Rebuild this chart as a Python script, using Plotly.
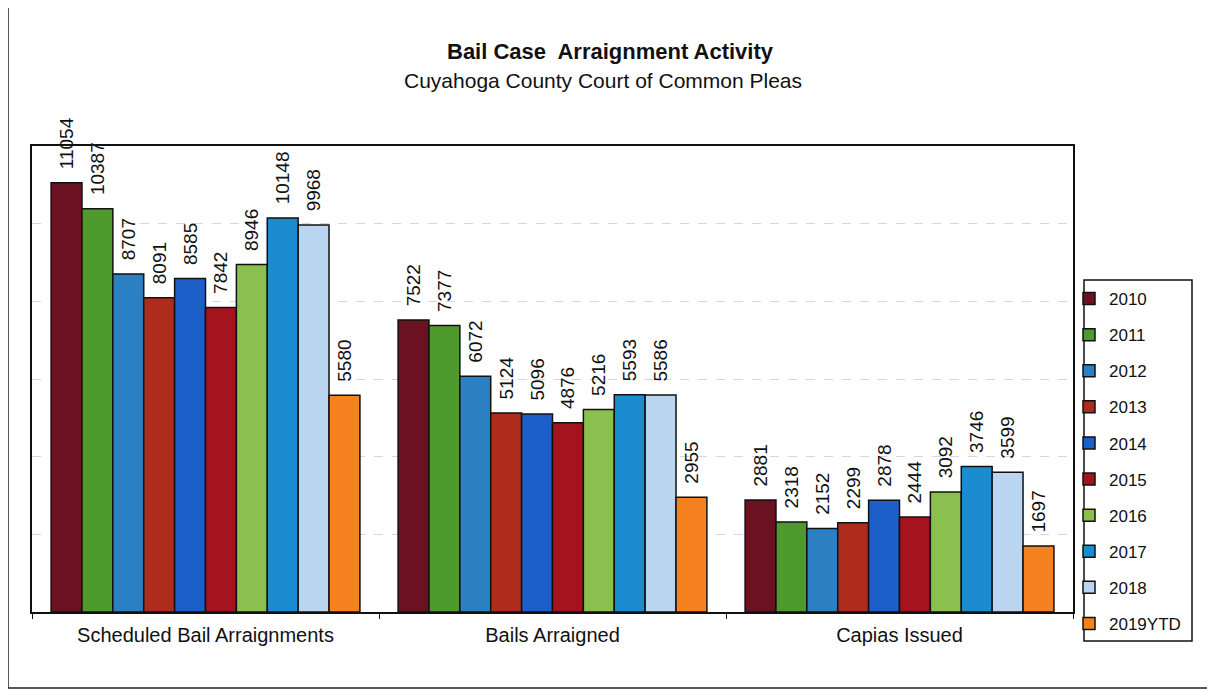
import plotly.graph_objects as go

categories = ["Scheduled Bail Arraignments", "Bails Arraigned", "Capias Issued"]
years = ["2010", "2011", "2012", "2013", "2014", "2015", "2016", "2017", "2018", "2019YTD"]
values = {
    "2010": [11054, 7522, 2881],
    "2011": [10387, 7377, 2318],
    "2012": [8707, 6072, 2152],
    "2013": [8091, 5124, 2299],
    "2014": [8585, 5096, 2878],
    "2015": [7842, 4876, 2444],
    "2016": [8946, 5216, 3092],
    "2017": [10148, 5593, 3746],
    "2018": [9968, 5586, 3599],
    "2019YTD": [5580, 2955, 1697],
}
colors = ["#6a1222", "#4f9a2c", "#2a80c2", "#ad2c1c", "#1d5fc9",
          "#a3141e", "#8bbf4e", "#1b8cd0", "#b9d5f0", "#f5821f"]

FONT = "Liberation Sans, Arial, sans-serif"
OFF = 8  # page body margin
W, H = 1215 - OFF, 690 - OFF
L, R, T, B = 32, 1073, 146, 612  # target pixel positions in window


def px(x):
    return (x - L) / (R - L)


def py(y):
    return (B - y) / (B - T)


fig = go.Figure()
for i, yr in enumerate(years):
    fig.add_trace(go.Bar(
        x=categories, y=values[yr], name=yr,
        marker=dict(color=colors[i], line=dict(color="#111111", width=1.5)),
        texttemplate="\u00a0\u00a0%{y:.0f}", textposition="outside", textangle=-90,
        textfont=dict(family=FONT, size=19, color="#111111"),
        constraintext="none", cliponaxis=False,
        legendgroup=yr,
    ))

fig.update_layout(
    width=W, height=H,
    margin=dict(l=L - OFF, r=1215 - R, t=T - OFF, b=690 - B, autoexpand=False),
    paper_bgcolor="white", plot_bgcolor="white",
    barmode="group", bargap=0.11, bargroupgap=0,
    font=dict(family=FONT, size=16, color="#111111"),
    showlegend=True,
    legend=dict(
        x=px(1069), y=py(281), xanchor="left", yanchor="top",
        borderwidth=0, bgcolor="rgba(0,0,0,0)",
        font=dict(family=FONT, size=17, color="#111111"),
        tracegroupgap=11, itemwidth=30,
    ),
    xaxis=dict(
        showline=True, linecolor="#111111", linewidth=1.5, mirror=True,
        ticks="outside", ticklen=5, tickcolor="#111111", tickson="boundaries",
        tickfont=dict(family=FONT, size=20, color="#111111"),
        ticklabelstandoff=4,
        showgrid=False,
    ),
    yaxis=dict(
        range=[0, 12000], dtick=2000, showticklabels=False,
        showline=True, linecolor="#111111", linewidth=1.5, mirror=True,
        showgrid=True, gridcolor="#d6d6e0", griddash="dash", gridwidth=1,
        zeroline=False, ticks="",
    ),
    annotations=[
        dict(text="<b>Bail Case  Arraignment Activity</b>", xref="paper", yref="paper",
             x=px(610), y=py(52), showarrow=False, xanchor="center", yanchor="middle",
             font=dict(family=FONT, size=22, color="#111111")),
        dict(text="Cuyahoga County Court of Common Pleas", xref="paper", yref="paper",
             x=px(603), y=py(80), showarrow=False, xanchor="center", yanchor="middle",
             font=dict(family=FONT, size=21, color="#111111")),
    ],
    shapes=[
        dict(type="rect", xref="paper", yref="paper",
             x0=px(8), x1=px(1240), y0=py(688), y1=py(6),
             line=dict(color="#222222", width=1.5), fillcolor="rgba(0,0,0,0)", layer="below"),
        dict(type="rect", xref="paper", yref="paper",
             x0=px(1084), x1=px(1192), y0=py(641), y1=py(280),
             line=dict(color="#111111", width=1.5), fillcolor="rgba(0,0,0,0)", layer="below"),
    ],
)

fig.write_html("out.html")
